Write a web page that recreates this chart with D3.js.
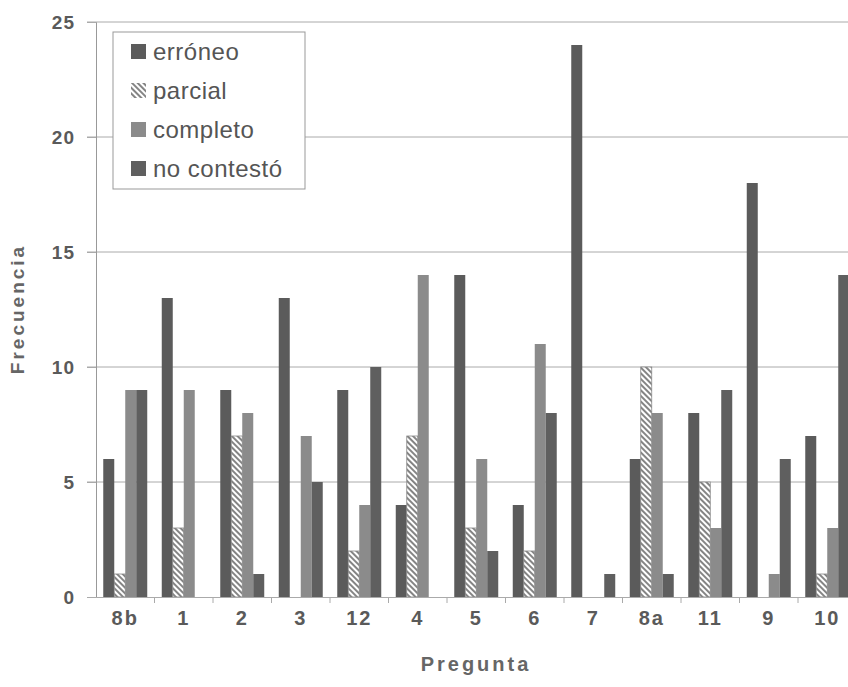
<!DOCTYPE html>
<html>
<head>
<meta charset="utf-8">
<script src="https://cdn.jsdelivr.net/npm/d3@7"></script>
<style>
  body { margin: 0; background: #fff; }
  svg { display: block; font-family: "Liberation Sans", Arial, sans-serif; }
</style>
</head>
<body>
<div id="chart"></div>
<script>
var categories = ['8b', '1', '2', '3', '12', '4', '5', '6', '7', '8a', '11', '9', '10']
var series = ['erróneo', 'parcial', 'completo', 'no contestó']

var erroneo    = [6, 13, 9, 13, 9, 4, 14, 4, 24, 6, 8, 18, 7]
var parcial    = [1, 3, 7, 0, 2, 7, 3, 2, 0, 10, 5, 0, 1]
var completo   = [9, 9, 8, 7, 4, 14, 6, 11, 0, 8, 3, 1, 3]
var noContesto = [9, 0, 1, 5, 10, 0, 2, 8, 1, 1, 9, 6, 14]

var yTicks = [0, 5, 10, 15, 20, 25]

var values = [erroneo, parcial, completo, noContesto]
var fills = ['#5b5b5b', 'url(#hatch)', '#8b8b8b', '#5f5f5f']

var width = 848, height = 687
var plotLeft = 96, plotBottom = 597, plotTop = 22
var step = 58.5

var svg = d3.select('#chart')
  .append('svg')
    .attr('width', width)
    .attr('height', height)

var defs = svg.append('defs')
var pat = defs.append('pattern')
    .attr('id', 'hatch')
    .attr('patternUnits', 'userSpaceOnUse')
    .attr('width', 4)
    .attr('height', 4)
    .attr('patternTransform', 'rotate(-45)')
pat.append('rect').attr('width', 4).attr('height', 4).attr('fill', '#fff')
pat.append('line')
    .attr('x1', 1).attr('y1', 0).attr('x2', 1).attr('y2', 4)
    .attr('stroke', '#777').attr('stroke-width', 1.8)

var x0 = d3.scaleBand()
    .domain(categories)
    .range([plotLeft, plotLeft + step * categories.length])

var x1 = d3.scaleBand()
    .domain(series)
    .range([0, x0.bandwidth()])
    .paddingOuter(0.66)

var y = d3.scaleLinear()
    .domain([0, 25])
    .range([plotBottom, plotTop])

// gridlines
svg.append('g')
  .selectAll('line')
  .data(yTicks.filter(function(d){ return d > 0 }))
  .join('line')
    .attr('x1', plotLeft - 9)
    .attr('x2', width)
    .attr('y1', function(d){ return y(d) })
    .attr('y2', function(d){ return y(d) })
    .attr('stroke', '#aaa')
    .attr('stroke-width', 1)

// y axis
var yAxis = svg.append('g')
    .attr('transform', 'translate(' + plotLeft + ',0)')
    .call(d3.axisLeft(y).tickValues(yTicks).tickSize(9).tickPadding(12))
yAxis.select('.domain').attr('stroke', '#999')
yAxis.selectAll('.tick line').attr('stroke', '#aaa')
yAxis.selectAll('text')
    .attr('fill', '#5a5a5a')
    .attr('font-size', 19)
    .attr('font-weight', 'bold')
    .attr('letter-spacing', 1)
    .attr('font-family', '"Liberation Sans", Arial, sans-serif')

// bars
var groups = svg.append('g')
  .selectAll('g')
  .data(categories)
  .join('g')
    .attr('transform', function(d){ return 'translate(' + x0(d) + ',0)' })

groups.selectAll('rect')
  .data(function(d, i){
    return series.map(function(s, j){ return {s: s, v: values[j][i], j: j} })
  })
  .join('rect')
    .attr('x', function(d){ return x1(d.s) })
    .attr('width', x1.bandwidth())
    .attr('y', function(d){ return y(d.v) })
    .attr('height', function(d){ return y(0) - y(d.v) })
    .attr('fill', function(d){ return fills[d.j] })
    .attr('stroke', function(d){ return d.j == 1 ? '#888' : 'none' })
    .attr('stroke-width', 0.8)

// x axis
var xAxis = svg.append('g')
    .attr('transform', 'translate(0,' + plotBottom + ')')
    .call(d3.axisBottom(x0).tickSize(0).tickPadding(14))
xAxis.select('.domain').attr('stroke', '#aaa')
xAxis.selectAll('text')
    .attr('fill', '#5a5a5a')
    .attr('font-size', 20)
    .attr('font-weight', 'bold')
    .attr('letter-spacing', 2)
    .attr('font-family', '"Liberation Sans", Arial, sans-serif')

// category separators
svg.append('g')
  .selectAll('line')
  .data(categories)
  .join('line')
    .attr('x1', function(d){ return x0(d) + step })
    .attr('x2', function(d){ return x0(d) + step })
    .attr('y1', plotBottom)
    .attr('y2', plotBottom + 6)
    .attr('stroke', '#aaa')

// axis titles
svg.append('text')
    .attr('x', 476)
    .attr('y', 671)
    .attr('text-anchor', 'middle')
    .attr('fill', '#666')
    .attr('font-size', 20)
    .attr('font-weight', 'bold')
    .attr('letter-spacing', 3)
    .text('Pregunta')

svg.append('text')
    .attr('transform', 'translate(24,309) rotate(-90)')
    .attr('text-anchor', 'middle')
    .attr('fill', '#666')
    .attr('font-size', 19)
    .attr('font-weight', 'bold')
    .attr('letter-spacing', 3)
    .text('Frecuencia')

// legend
var legend = svg.append('g').attr('transform', 'translate(113,32)')
legend.append('rect')
    .attr('width', 192)
    .attr('height', 157)
    .attr('fill', '#fff')
    .attr('stroke', '#999')

var items = legend.selectAll('g.item')
  .data(series)
  .join('g')
    .attr('class', 'item')
    .attr('transform', function(d, i){ return 'translate(18,' + (18 + i * 39) + ')' })

items.append('rect')
    .attr('y', -6)
    .attr('width', 15)
    .attr('height', 15)
    .attr('fill', function(d, i){ return fills[i] })

items.append('text')
    .attr('x', 22)
    .attr('y', 10)
    .attr('fill', '#555')
    .attr('font-size', 24)
    .attr('letter-spacing', 0.5)
    .text(function(d){ return d })
</script>
</body>
</html>
